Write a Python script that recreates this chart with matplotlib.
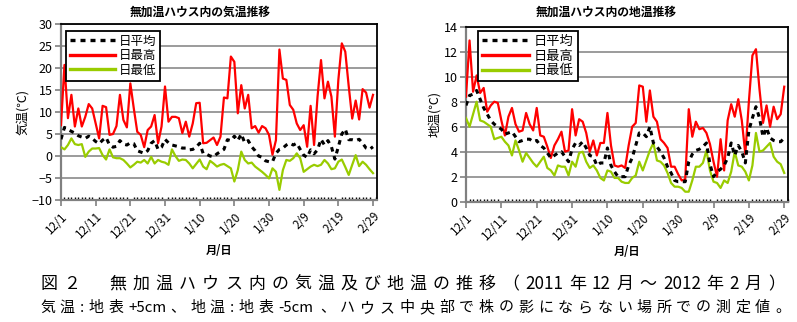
import matplotlib
matplotlib.use("Agg")
import matplotlib.pyplot as plt
from matplotlib.ticker import MultipleLocator
from matplotlib.lines import Line2D

plt.rcParams['font.family'] = ['Noto Sans CJK JP', 'DejaVu Sans']

# 2011/12/1 - 2012/2/29, daily values
tick_labels = ["12/1", "12/11", "12/21", "12/31", "1/10", "1/20", "1/30", "2/9", "2/19", "2/29"]

# air temperature (気温)
air_mean = [3.8, 6.5, 6.0, 5.6, 5.2, 4.6, 4.3, 4.0, 4.5, 4.0,
            3.3, 2.8, 3.6, 4.2, 2.5, 2.0, 2.2, 3.5, 2.7, 2.5,
            3.0, 2.8, 1.2, 0.9, 0.6, 1.2, 2.9, 3.5, 1.5, 2.0,
            3.8, 3.0, 2.5, 2.3, 2.1, 1.8, 1.8, 1.4, 1.5, 2.0,
            2.9, 0.6, 0.4, 0.0, -0.2, 0.5, 1.0, 1.5, 3.7, 3.5,
            4.5, 3.5, 5.0, 3.0, 3.5, 2.1, 1.2, 0.0, -0.3, -1.1,
            -1.3, -1.3, 0.6, 1.5, 1.8, 2.5, 2.9, 2.5, 2.9, 1.5,
            0.2, -0.3, 1.4, 0.5, 1.4, 3.8, 2.5, 3.5, 2.1, -0.7,
            2.1, 5.0, 6.1, 3.7, 3.7, 3.5, 3.8, 2.9, 1.8, 1.5, 2.1]
air_max = [7.0, 20.7, 8.6, 13.9, 6.7, 10.8, 6.7, 8.9, 11.8, 10.8,
           7.4, 4.0, 11.4, 11.1, 4.8, 5.0, 6.8, 13.9, 8.2, 6.5,
           16.5, 10.8, 5.5, 4.8, 2.0, 5.9, 6.7, 9.3, 2.9, 6.7,
           15.8, 7.8, 8.9, 8.9, 8.6, 5.2, 7.8, 4.4, 7.4, 12.0,
           12.1, 2.9, 3.0, 3.6, 4.2, 2.5, 4.4, 13.3, 13.1, 22.6,
           21.4, 9.7, 16.1, 10.8, 13.9, 6.3, 6.8, 5.3, 6.8, 6.3,
           4.8, 0.3, 3.6, 24.2, 17.6, 17.3, 11.6, 10.5, 7.4, 5.9,
           7.0, 2.1, 11.4, 2.5, 13.5, 21.8, 13.1, 16.9, 13.5, 4.4,
           17.3, 25.6, 23.7, 15.8, 8.5, 12.6, 8.3, 15.2, 14.4, 11.0, 13.9]
air_min = [2.0, 1.5, 2.5, 4.0, 2.7, 2.5, 2.7, -0.2, 1.0, 1.7,
           1.7, 1.8, 0.2, -0.8, 1.5, -0.3, -0.5, -0.5, -0.9, -1.7,
           -2.6, -2.0, -1.3, -1.5, -0.9, -1.7, -0.2, -1.7, -0.9, -1.3,
           -1.5, -2.0, 1.5, 0.0, -1.1, -0.8, -0.9, -1.7, -2.8, -1.8,
           -0.8, -2.4, -3.0, -1.1, -1.7, -2.4, -2.0, -1.8, -2.3, -2.8,
           -5.8, -3.2, 1.0, -0.9, -1.7, -1.5, -2.4, -3.0, -3.6, -4.3,
           -5.1, -2.8, -3.6, -7.7, -3.2, -0.9, -1.1, -0.5, 0.6, -0.5,
           -3.6, -3.0, -2.4, -2.0, -2.3, -2.0, -0.9, -1.7, -3.0, -2.8,
           -1.3, -0.8, -2.5, -4.3, -2.0, 0.2, -2.3, -1.3, -2.0, -3.0, -3.9]

# soil temperature (地温)
soil_mean = [7.7, 8.5, 8.6, 8.9, 8.2, 7.5, 7.0, 6.5, 6.2, 6.0,
             5.8, 5.4, 5.5, 5.6, 5.2, 4.8, 4.9, 5.0, 5.0, 4.8,
             4.9, 4.5, 4.3, 3.9, 3.5, 3.7, 3.9, 4.0, 3.6, 3.2,
             4.2, 4.7, 4.5, 4.8, 4.3, 3.7, 3.6, 2.9, 3.1, 3.1,
             4.3, 2.9, 2.4, 2.0, 2.0, 2.0, 2.9, 3.5, 4.5, 5.5,
             5.5, 5.2, 6.0, 4.7, 4.4, 4.0, 3.5, 2.8, 2.3, 1.7,
             1.6, 1.6, 1.6, 3.2, 3.8, 4.1, 4.2, 4.4, 4.7, 3.0,
             2.0, 2.4, 2.6, 2.9, 3.5, 4.7, 3.7, 4.5, 4.0, 3.1,
             5.7, 6.7, 7.6, 6.7, 5.2, 5.9, 5.1, 4.9, 4.8, 4.8, 5.1]
soil_max = [8.4, 12.9, 8.8, 10.1, 8.7, 9.1, 7.2, 7.7, 8.0, 7.9,
            6.5, 5.3, 6.8, 7.5, 6.2, 5.6, 5.7, 7.1, 6.2, 5.7,
            7.5, 5.3, 5.2, 4.4, 3.5, 4.5, 5.0, 5.6, 4.0, 4.1,
            7.4, 5.3, 6.6, 6.4, 5.5, 4.0, 4.9, 3.7, 4.7, 4.7,
            7.1, 4.5, 2.9, 2.8, 2.9, 2.7, 4.5, 6.0, 6.3, 9.3,
            9.2, 6.4, 8.9, 6.8, 6.4, 5.0, 4.7, 4.3, 2.8, 2.8,
            2.2, 1.7, 1.8, 7.4, 5.2, 6.4, 5.8, 5.9, 5.5, 4.6,
            3.2, 2.0, 5.0, 2.5, 6.5, 7.8, 6.8, 8.2, 6.5, 3.8,
            8.0, 11.7, 12.2, 9.0, 6.3, 7.7, 6.0, 7.6, 6.6, 7.0, 9.2]
soil_min = [6.7, 6.0, 7.0, 8.0, 6.5, 6.4, 6.2, 6.0, 5.0, 5.1,
            5.2, 4.8, 4.5, 3.7, 4.9, 4.1, 3.2, 3.9, 3.5, 3.1,
            2.8, 3.2, 3.6, 2.7, 2.5, 2.1, 2.9, 2.8, 2.8, 2.1,
            3.2, 2.8, 3.9, 4.0, 3.2, 2.7, 2.9, 2.5, 1.9, 1.7,
            2.5, 2.4, 1.9, 1.9, 1.6, 1.5, 1.5, 1.9, 2.1, 3.2,
            2.5, 3.3, 4.1, 4.7, 3.3, 3.2, 2.9, 2.3, 1.5, 1.2,
            1.2, 1.1, 0.8, 0.8, 1.7, 2.8, 2.8, 3.1, 4.1, 2.5,
            1.6, 1.5, 1.1, 1.7, 1.5, 2.4, 4.0, 2.9, 2.8, 2.4,
            1.7, 2.9, 5.5, 4.0, 4.1, 4.4, 4.7, 3.6, 3.2, 3.0, 2.3]

days = list(range(len(air_mean)))

W, H = 797, 322
fig = plt.figure(figsize=(W / 100, H / 100), dpi=100)

RED = '#ff0000'
GREEN = '#99cc00'
GRID = '#808080'


def draw_panel(ax, mean, tmax, tmin, ylim, ystep, ylabel, title, title_x, leg_anchor, leg_size):
    ax.plot(days, tmax, color=RED, lw=1.6, zorder=3)
    ax.plot(days, tmin, color=GREEN, lw=1.6, zorder=3)
    ax.plot(days, mean, color='black', lw=2.2, ls=(0, (1.5, 1.5)), zorder=4)
    ax.set_xlim(0, 91.15)
    ax.set_ylim(*ylim)
    ax.yaxis.set_major_locator(MultipleLocator(ystep))
    ax.set_xticks(range(0, 91, 10))
    ax.set_xticklabels(tick_labels, rotation=45, ha='right', rotation_mode='anchor', fontsize=8.5)
    ax.xaxis.set_minor_locator(MultipleLocator(1))
    ax.grid(axis='y', color=GRID, lw=1.1)
    ax.set_axisbelow(True)
    for s in ['top', 'right']:
        ax.spines[s].set_color('black')
        ax.spines[s].set_linewidth(1.3)
    for s in ['left', 'bottom']:
        ax.spines[s].set_color(GRID)
        ax.spines[s].set_linewidth(1.6)
    ax.tick_params(axis='y', labelsize=9, length=4, color=GRID, width=1.2, pad=2)
    ax.tick_params(axis='x', which='major', length=4, color=GRID, width=1.2, pad=3)
    ax.tick_params(axis='x', which='minor', direction='in', length=2.5, color='black', width=1)
    ax.set_ylabel(ylabel, fontsize=9, labelpad=2)
    ax.set_xlabel('月/日', fontsize=8, fontweight='bold', labelpad=2)
    fig.text(title_x / W, 1 - 12 / H, title, ha='center', va='center', fontsize=8.5, fontweight='bold')
    handles = [Line2D([], [], color='black', lw=2.4, ls=(0, (1.5, 1.5))),
               Line2D([], [], color=RED, lw=2.4),
               Line2D([], [], color=GREEN, lw=2.4)]
    leg = ax.legend(handles, ['日平均', '日最高', '日最低'], loc='upper left', bbox_to_anchor=leg_anchor,
                    fontsize=leg_size, frameon=True, fancybox=False, framealpha=1, edgecolor='black',
                    handlelength=3.6, handletextpad=0.35, borderpad=0.3, labelspacing=0.12,
                    borderaxespad=0)
    leg.get_frame().set_linewidth(1.3)


ax1 = fig.add_axes([61 / W, 1 - 200 / H, (377 - 61) / W, 176 / H])
draw_panel(ax1, air_mean, air_max, air_min, (-10, 30), 5, '気温(℃)',
           '無加温ハウス内の気温推移', 200, (0.016, 0.96), 9)

ax2 = fig.add_axes([466 / W, 1 - 201.7 / H, (788.3 - 466) / W, 175 / H])
draw_panel(ax2, soil_mean, soil_max, soil_min, (0, 14), 2, '地温(℃)',
           '無加温ハウス内の地温推移', 606, (0.037, 0.975), 9.5)


def spread_text(tokens, x0, x1, y, px):
    # lay tokens out evenly between x0 and x1 (pixels), like the wide-spaced caption
    widths = []
    for t in tokens:
        if t.isascii():
            widths.append(sum(0.28 if c in ':' else 0.85 if c == 'm' else 0.55 for c in t) * px)
        else:
            widths.append(px * len(t))
    gap = (x1 - x0 - sum(widths)) / (len(tokens) - 1)
    x = x0
    for t, w in zip(tokens, widths):
        fig.text(x / W, 1 - y / H, t, ha='left', va='center', fontsize=px * 0.72)
        x += w + gap


cap1 = ['図', '２', '　', '無', '加', '温', 'ハ', 'ウ', 'ス', '内', 'の', '気', '温', '及', 'び', '地', '温',
        'の', '推', '移', '（', '2011', '年', '12', '月', '～', '2012', '年', '2', '月', '）']
cap2 = ['気', '温', ':', '地', '表', '+5cm', '、', '地', '温', ':', '地', '表', '-5cm', '、', 'ハ', 'ウ', 'ス',
        '中', '央', '部', 'で', '株', 'の', '影', 'に', 'な', 'ら', 'な', 'い', '場', '所', 'で', 'の', '測',
        '定', '値', '。']
spread_text(cap1, 40, 785, 284, 17)
spread_text(cap2, 40, 790, 308, 15)

fig.savefig('out.png', dpi=100)
